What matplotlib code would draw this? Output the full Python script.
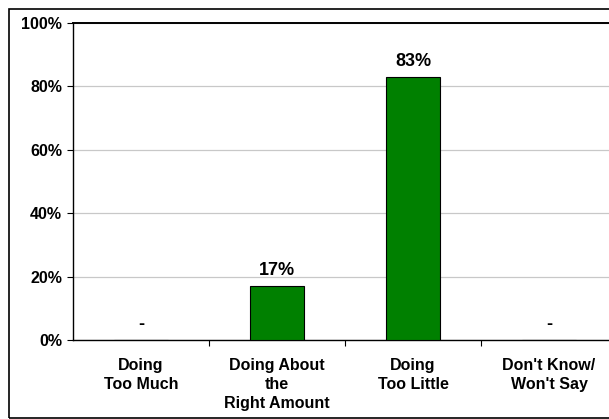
import matplotlib
matplotlib.use("Agg")
import matplotlib.pyplot as plt
from matplotlib.patches import Rectangle

categories = ["Doing\nToo Much", "Doing About\nthe\nRight Amount", "Doing\nToo Little", "Don't Know/\nWon't Say"]
values = [0, 17, 83, 0]
y_ticks = [0, 20, 40, 60, 80, 100]
y_tick_labels = ["0%", "20%", "40%", "60%", "80%", "100%"]

plt.rcParams['font.family'] = ['Liberation Sans', 'DejaVu Sans']
plt.rcParams['font.weight'] = 'bold'

W, H = 609, 419
fig = plt.figure(figsize=(W / 100, H / 100), dpi=100)

# outer frame
fig.patches.append(Rectangle((9 / W, 1 / H), 2.0, (418 - 9) / H, transform=fig.transFigure,
                             fill=False, edgecolor='black', linewidth=1.2))

ax = fig.add_axes([73 / W, (H - 340) / H, (617 - 73) / W, (340 - 23) / H])
x = list(range(len(categories)))
ax.bar(x, values, width=0.40, color='#008000', edgecolor='black', linewidth=0.8, zorder=3)

for xi, v in zip(x, values):
    label = '-' if v == 0 else f"{v}%"
    ax.annotate(label, (xi, v), xytext=(0, 5), textcoords='offset points',
                ha='center', va='bottom', fontsize=13, fontweight='bold')

ax.set_xlim(-0.5, 3.5)
ax.set_ylim(0, 100)
ax.set_yticks(y_ticks)
ax.set_yticklabels(y_tick_labels, fontsize=11.5, fontweight='bold')
ax.yaxis.grid(True, color='#c8c8c8', linewidth=0.9, zorder=0)
ax.set_axisbelow(True)

ax.set_xticks([0.5, 1.5, 2.5])
ax.set_xticklabels([])
ax.set_xticks(x, minor=True)
ax.set_xticklabels(categories, minor=True, fontsize=11.5, fontweight='bold', linespacing=1.32)
ax.tick_params(axis='x', which='minor', length=0, pad=13)
ax.tick_params(axis='x', which='major', length=4, direction='out', width=0.8)
ax.tick_params(axis='y', length=4, direction='out', width=0.8, pad=4)

for s in ['left', 'bottom', 'top']:
    ax.spines[s].set_color('black')
    ax.spines[s].set_linewidth(1.0)
ax.spines['top'].set_linewidth(1.4)
ax.spines['right'].set_visible(False)

fig.savefig('out.png', dpi=100)
